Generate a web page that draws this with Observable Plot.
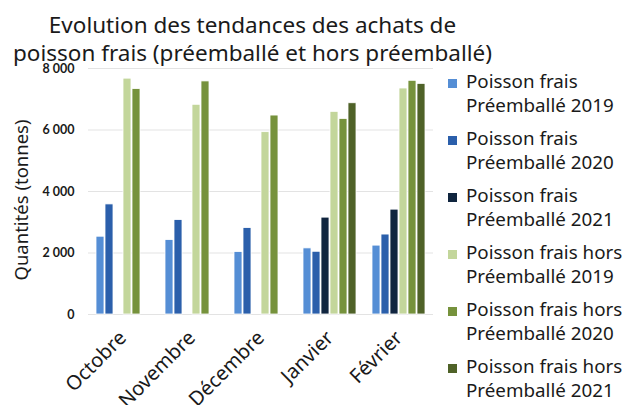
<!DOCTYPE html>
<html><head><meta charset="utf-8">
<script src="https://cdn.jsdelivr.net/npm/d3@7"></script>
<script src="https://cdn.jsdelivr.net/npm/@observablehq/plot@0.6"></script>
<style>
body{margin:0;background:#fff;}
#wrap{position:relative;width:644px;height:405px;overflow:hidden;background:#fff;font-family:"Noto Sans",sans-serif;color:#1a1a1a;}
#title{position:absolute;left:0;top:11px;width:505px;text-align:center;font-size:22.5px;line-height:28px;}
#ylab{position:absolute;left:20px;top:200px;transform:translate(-50%,-50%) rotate(-90deg);white-space:nowrap;font-size:18.5px;}
#chart{position:absolute;left:0;top:60px;}
#legend{position:absolute;left:448px;top:71px;}
.item{position:relative;height:57px;}
.sw{position:absolute;left:0;top:8px;width:9px;height:9px;}
.lt{position:absolute;left:18px;top:-2px;font-size:18.8px;line-height:24px;white-space:nowrap;}
</style></head>
<body><div id="wrap">
<div id="title">Evolution des tendances des achats de<br>poisson frais (préemballé et hors préemballé)</div>
<div id="ylab">Quantités (tonnes)</div>
<div id="chart"></div>
<div id="legend"></div>
</div>
<script>
const months = ["Octobre", "Novembre", "Décembre", "Janvier", "Février"];
const seriesNames = [
  "Poisson frais Préemballé 2019",
  "Poisson frais Préemballé 2020",
  "Poisson frais Préemballé 2021",
  "Poisson frais hors Préemballé 2019",
  "Poisson frais hors Préemballé 2020",
  "Poisson frais hors Préemballé 2021"
];
const legendLines = [
  ["Poisson frais", "Préemballé 2019"],
  ["Poisson frais", "Préemballé 2020"],
  ["Poisson frais", "Préemballé 2021"],
  ["Poisson frais hors", "Préemballé 2019"],
  ["Poisson frais hors", "Préemballé 2020"],
  ["Poisson frais hors", "Préemballé 2021"]
];
const preemb2019 = [2530, 2420, 2030, 2150, 2240];
const preemb2020 = [3580, 3070, 2810, 2040, 2600];
const preemb2021 = [null, null, null, 3150, 3410];
const hors2019 = [7670, 6820, 5930, 6590, 7350];
const hors2020 = [7330, 7580, 6470, 6360, 7600];
const hors2021 = [null, null, null, 6870, 7500];
const colors = ["#558ed5", "#2b5fab", "#10253f", "#c3d69b", "#76923c", "#4f6228"];
const yTicks = [0, 2000, 4000, 6000, 8000];

const allSeries = [preemb2019, preemb2020, preemb2021, hors2019, hors2020, hors2021];
const data = [];
months.forEach((m, i) => {
  allSeries.forEach((s, j) => {
    if (s[i] != null) data.push({month: m, series: seriesNames[j], value: s[i]});
  });
});

const fmt = d => d3.format(",")(d).replace(/,/g, " ");

const chart = Plot.plot({
  width: 440,
  height: 345,
  marginTop: 8,
  marginBottom: 91,
  marginLeft: 88,
  marginRight: 7,
  style: {fontFamily: "Noto Sans, sans-serif", color: "#1a1a1a", background: "transparent", overflow: "visible"},
  fx: {domain: months, paddingInner: 0, paddingOuter: 0},
  x: {domain: seriesNames, paddingInner: 0.12, paddingOuter: 0.85, axis: null},
  y: {domain: [0, 8000]},
  color: {domain: seriesNames, range: colors},
  marks: [
    Plot.gridY(yTicks, {stroke: "#e3e3e3", strokeOpacity: 1, strokeWidth: 1}),
    Plot.barY(data, {fx: "month", x: "series", y: "value", fill: "series", stroke: "white", strokeWidth: 0.8}),
    Plot.axisY(yTicks, {tickSize: 0, tickPadding: 14, fontSize: 12.5, fontWeight: "bold", tickFormat: fmt, label: null, fontFamily: "Lato, sans-serif"}),
    Plot.axisFx({anchor: "bottom", tickRotate: -45, tickSize: 0, tickPadding: 20, fontSize: 20, label: null})
  ]
});
document.getElementById("chart").appendChild(chart);

const leg = document.getElementById("legend");
seriesNames.forEach((s, i) => {
  const it = document.createElement("div");
  it.className = "item";
  const sw = document.createElement("div");
  sw.className = "sw";
  sw.style.background = colors[i];
  const lt = document.createElement("div");
  lt.className = "lt";
  lt.innerHTML = legendLines[i][0] + "<br>" + legendLines[i][1];
  it.appendChild(sw); it.appendChild(lt);
  leg.appendChild(it);
});
</script>
</body></html>
